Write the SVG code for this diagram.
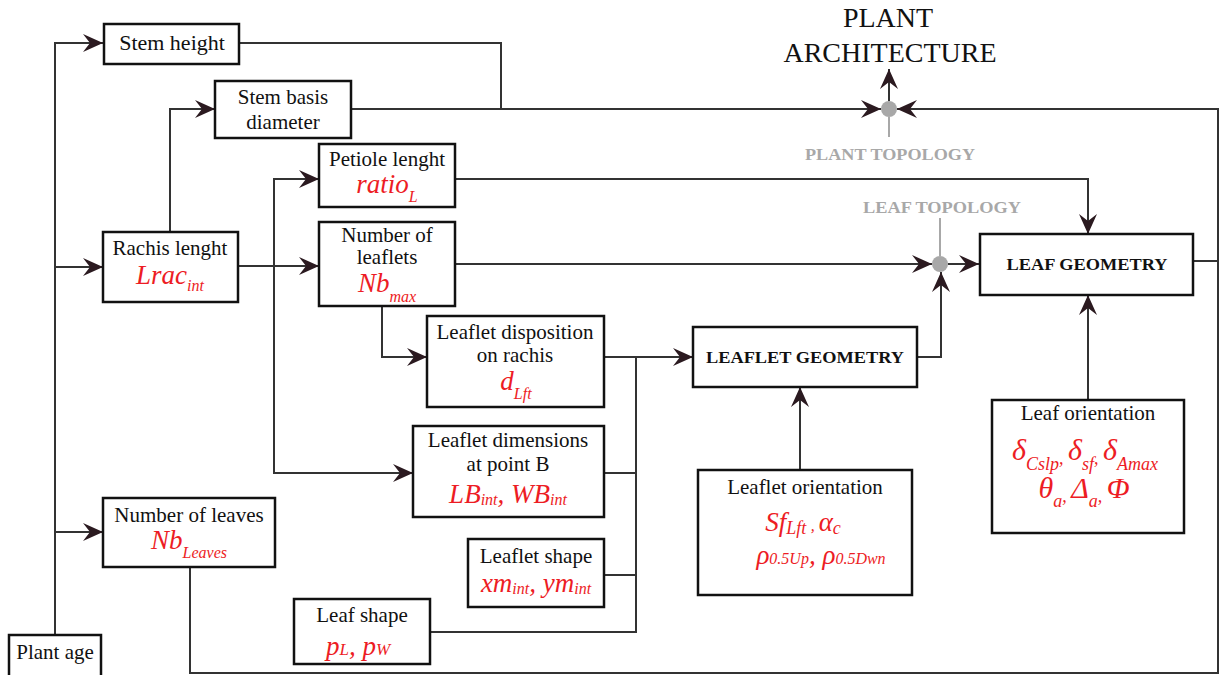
<svg xmlns="http://www.w3.org/2000/svg" width="1223" height="675" viewBox="0 0 1223 675">
<style>
.box{fill:#fff;stroke:#111;stroke-width:2.5}
.ln{fill:none;stroke:#333;stroke-width:2}
.gl{fill:none;stroke:#a8a8a8;stroke-width:2}
.dot{fill:#a8a8a8}
.t{font-family:"Liberation Serif","Times New Roman",serif;font-size:21px;fill:#111;text-anchor:middle}
.rv{font-family:"Liberation Serif","Times New Roman",serif;font-style:italic;font-size:27px;fill:#ed1c24;text-anchor:middle}
.sub{font-size:16px}
.bd{font-family:"Liberation Serif","Times New Roman",serif;font-weight:bold;font-size:17px;fill:#111;text-anchor:middle}
.gt{font-family:"Liberation Serif","Times New Roman",serif;font-weight:bold;font-size:17px;fill:#a8a8a8;text-anchor:middle}
.ttl{font-family:"Liberation Serif","Times New Roman",serif;font-size:28px;fill:#111;text-anchor:middle}
</style>
<defs>
<marker id="ar" viewBox="-21 -10 22 20" refX="0" refY="0" markerWidth="22" markerHeight="20" markerUnits="userSpaceOnUse" orient="auto">
<path d="M0,0 L-20,-9 L-13,0 L-20,9 Z" fill="#2b1a20"/>
</marker>
</defs>
<rect width="1223" height="675" fill="#fff"/>
<g id="connectors">
<path class="ln" d="M55,636 V43 H103" marker-end="url(#ar)"/>
<path class="ln" d="M55,267 H103" marker-end="url(#ar)"/>
<path class="ln" d="M55,532 H103" marker-end="url(#ar)"/>
<path class="ln" d="M239,43 H501 V109"/>
<path class="ln" d="M351,109 H881" marker-end="url(#ar)"/>
<path class="ln" d="M889,101 V69" marker-end="url(#ar)"/>
<path class="ln" d="M170,232 V109 H215" marker-end="url(#ar)"/>
<path class="ln" d="M238,266 H319" marker-end="url(#ar)"/>
<path class="ln" d="M274,320 V179 H319" marker-end="url(#ar)"/>
<path class="ln" d="M274,320 V473 H413" marker-end="url(#ar)"/>
<path class="ln" d="M455,179 H1088 V234" marker-end="url(#ar)"/>
<path class="ln" d="M455,264 H932" marker-end="url(#ar)"/>
<path class="ln" d="M382,306 V357 H427" marker-end="url(#ar)"/>
<path class="ln" d="M604,357 H693" marker-end="url(#ar)"/>
<path class="ln" d="M636,357 V632 H430"/>
<path class="ln" d="M604,473 H636"/>
<path class="ln" d="M604,575 H636"/>
<path class="ln" d="M917,357 H941 V272" marker-end="url(#ar)"/>
<path class="ln" d="M948,264 H979" marker-end="url(#ar)"/>
<path class="ln" d="M800,470 V387" marker-end="url(#ar)"/>
<path class="ln" d="M1088,400 V295" marker-end="url(#ar)"/>
<path class="ln" d="M190,567 V673 H1218 V109 H897" marker-end="url(#ar)"/>
<path class="ln" d="M1193,261 H1218"/>
<path class="gl" d="M889,117 V137"/>
<path class="gl" d="M940,218 V256"/>
<ellipse class="dot" cx="889" cy="109" rx="8" ry="8"/>
<ellipse class="dot" cx="940" cy="264" rx="8" ry="8"/>
</g>
<g id="plant-architecture">
<text class="ttl" x="888" y="27">PLANT</text>
<text class="ttl" x="890" y="62">ARCHITECTURE</text>
</g>
<g id="plant-topology"><text class="gt" x="890" y="160" textLength="170" lengthAdjust="spacingAndGlyphs">PLANT TOPOLOGY</text></g>
<g id="leaf-topology"><text class="gt" x="942" y="213" textLength="158" lengthAdjust="spacingAndGlyphs">LEAF TOPOLOGY</text></g>
<g id="stem-height">
<rect class="box" x="104" y="24" width="135" height="40"/>
<text class="t" x="172" y="50" style="font-size:22px">Stem height</text>
</g>
<g id="stem-basis">
<rect class="box" x="215" y="81" width="136" height="57"/>
<text class="t" x="283" y="104">Stem basis</text>
<text class="t" x="283" y="129">diameter</text>
</g>
<g id="petiole">
<rect class="box" x="319" y="144" width="136" height="63"/>
<text class="t" x="387" y="166">Petiole lenght</text>
<text class="rv" x="387" y="193">ratio<tspan class="sub" dy="9">L</tspan></text>
</g>
<g id="rachis">
<rect class="box" x="103" y="232" width="135" height="70"/>
<text class="t" x="170" y="255">Rachis lenght</text>
<text class="rv" x="170" y="284">Lrac<tspan class="sub" dy="7">int</tspan></text>
</g>
<g id="nb-leaflets">
<rect class="box" x="319" y="222" width="136" height="84"/>
<text class="t" x="387" y="242">Number of</text>
<text class="t" x="387" y="264">leaflets</text>
<text class="rv" x="387" y="292">Nb<tspan class="sub" dy="10">max</tspan></text>
</g>
<g id="leaflet-disposition">
<rect class="box" x="427" y="316" width="177" height="91"/>
<text class="t" x="515" y="339">Leaflet disposition</text>
<text class="t" x="515" y="362">on rachis</text>
<text class="rv" x="516" y="390">d<tspan class="sub" dy="9">Lft</tspan></text>
</g>
<g id="leaflet-dimensions">
<rect class="box" x="413" y="426" width="191" height="91"/>
<text class="t" x="508" y="447">Leaflet dimensions</text>
<text class="t" x="508" y="471">at point B</text>
<text class="rv" x="508" y="503">LB<tspan class="sub" dy="2">int</tspan><tspan dy="-2">, WB</tspan><tspan class="sub" dy="2">int</tspan></text>
</g>
<g id="nb-leaves">
<rect class="box" x="103" y="498" width="172" height="69"/>
<text class="t" x="189" y="522">Number of leaves</text>
<text class="rv" x="189" y="549">Nb<tspan class="sub" dy="9">Leaves</tspan></text>
</g>
<g id="leaflet-shape">
<rect class="box" x="468" y="539" width="136" height="68"/>
<text class="t" x="536" y="563">Leaflet shape</text>
<text class="rv" x="536" y="592">xm<tspan class="sub" dy="2">int</tspan><tspan dy="-2">, ym</tspan><tspan class="sub" dy="2">int</tspan></text>
</g>
<g id="leaf-shape">
<rect class="box" x="294" y="599" width="136" height="65"/>
<text class="t" x="362" y="622">Leaf shape</text>
<text class="rv" x="358" y="655">p<tspan class="sub" style="font-size:17px">L</tspan>, p<tspan class="sub" style="font-size:17px">W</tspan></text>
</g>
<g id="plant-age">
<rect class="box" x="9" y="635" width="92" height="45"/>
<text class="t" x="55" y="659">Plant age</text>
</g>
<g id="leaflet-geometry">
<rect class="box" x="693" y="327" width="224" height="60"/>
<text class="bd" x="805" y="363" textLength="198" lengthAdjust="spacingAndGlyphs">LEAFLET  GEOMETRY</text>
</g>
<g id="leaf-geometry">
<rect class="box" x="980" y="234" width="213" height="61"/>
<text class="bd" x="1087" y="270" textLength="161" lengthAdjust="spacingAndGlyphs">LEAF GEOMETRY</text>
</g>
<g id="leaflet-orientation">
<rect class="box" x="698" y="470" width="214" height="125"/>
<text class="t" x="805" y="494">Leaflet orientation</text>
<text class="rv" x="803" y="531">Sf<tspan class="sub" style="font-size:18px" dy="3">Lft </tspan><tspan class="sub" dy="-3">, </tspan>α<tspan class="sub" style="font-size:18px" dy="3">c</tspan></text>
<text class="rv" x="821" y="564">ρ<tspan class="sub" style="font-size:16px">0.5Up</tspan>, ρ<tspan class="sub" style="font-size:16px">0.5Dwn</tspan></text>
</g>
<g id="leaf-orientation">
<rect class="box" x="992" y="400" width="192" height="133"/>
<text class="t" x="1088" y="420">Leaf orientation</text>
<text class="rv" x="1085" y="460" style="font-size:30px">δ<tspan class="sub" style="font-size:18px" dy="10">Cslp</tspan><tspan class="sub" style="font-size:18px" dy="-6">, </tspan><tspan dy="-4">δ</tspan><tspan class="sub" style="font-size:18px" dy="10">sf</tspan><tspan class="sub" style="font-size:18px" dy="-6">, </tspan><tspan dy="-4">δ</tspan><tspan class="sub" style="font-size:18px" dy="10">Amax</tspan></text>
<text class="rv" x="1084" y="498" style="font-size:30px">θ<tspan class="sub" style="font-size:18px" dy="9">a</tspan><tspan class="sub" style="font-size:18px" dy="-5">, </tspan><tspan dy="-4">Δ</tspan><tspan class="sub" style="font-size:18px" dy="9">a</tspan><tspan class="sub" style="font-size:18px" dy="-5">, </tspan><tspan dy="-4">Φ</tspan></text>
</g>
</svg>
